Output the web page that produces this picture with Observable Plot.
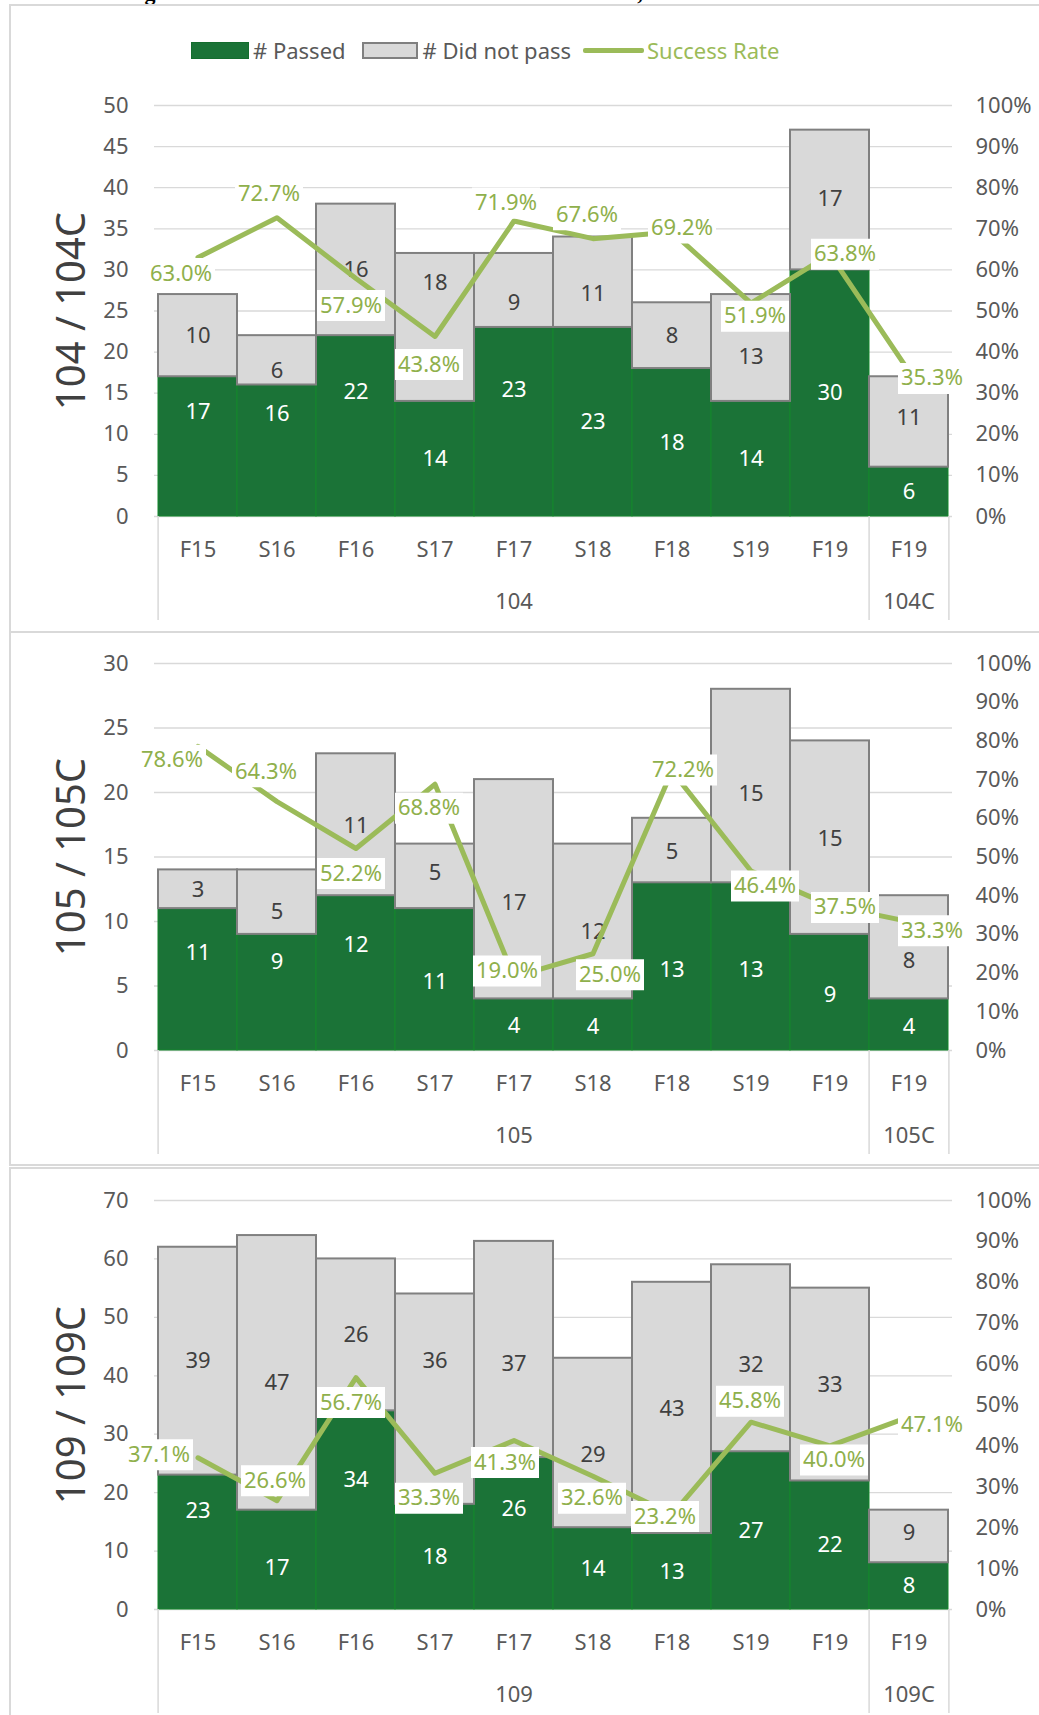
<!DOCTYPE html>
<html>
<head>
<meta charset="utf-8">
<script src="https://cdn.jsdelivr.net/npm/d3@7"></script>
<script src="https://cdn.jsdelivr.net/npm/@observablehq/plot@0.6"></script>
<style>
  html, body { margin: 0; padding: 0; background: #fff; }
  #page { position: relative; width: 1039px; height: 1715px; overflow: hidden; font-family: "Noto Sans", sans-serif; }
  .frame { position: absolute; box-sizing: border-box; border: 2px solid #d9d9d9; border-right: none; left: 9px; width: 1100px; }
  .doc-title { position: absolute; left: 12px; top: -18px; font: bold 22px/22px "Liberation Serif", serif; color: #000; white-space: nowrap; }
  .legend { position: absolute; left: 191px; top: 39px; height: 22px; display: flex; align-items: center; font-size: 22px; color: #595959; white-space: nowrap; }
  .legend .sw { display: inline-block; box-sizing: border-box; }
  .chart { position: absolute; left: 0; }
</style>
</head>
<body>
<div id="page">
  <div class="doc-title" id="docTitle"></div>
  <div class="frame" style="top:4px;height:629px"></div>
  <div class="frame" style="top:631px;height:535px"></div>
  <div class="frame" style="top:1167px;height:600px"></div>
  <div class="legend" id="legend"></div>
</div>
<script>
// ---------------- DATA ----------------
const docTitle = "Course Passing and Success Rates in Transfer-Level Math Courses, Fall 2015 – Fall 2019";
const legendLabels = ["# Passed", "# Did not pass", "Success Rate"];
const terms = ["F15", "S16", "F16", "S17", "F17", "S18", "F18", "S19", "F19", "F19"];
const pctTicks = [0, 10, 20, 30, 40, 50, 60, 70, 80, 90, 100];
const panelTitles = ["104 / 104C", "105 / 105C", "109 / 109C"];

const courses104 = ["104", "104", "104", "104", "104", "104", "104", "104", "104", "104C"];
const passed104 = [17, 16, 22, 14, 23, 23, 18, 14, 30, 6];
const notPassed104 = [10, 6, 16, 18, 9, 11, 8, 13, 17, 11];
const rate104 = [63.0, 72.7, 57.9, 43.8, 71.9, 67.6, 69.2, 51.9, 63.8, 35.3];
const countTicks104 = [0, 5, 10, 15, 20, 25, 30, 35, 40, 45, 50];

const courses105 = ["105", "105", "105", "105", "105", "105", "105", "105", "105", "105C"];
const passed105 = [11, 9, 12, 11, 4, 4, 13, 13, 9, 4];
const notPassed105 = [3, 5, 11, 5, 17, 12, 5, 15, 15, 8];
const rate105 = [78.6, 64.3, 52.2, 68.8, 19.0, 25.0, 72.2, 46.4, 37.5, 33.3];
const countTicks105 = [0, 5, 10, 15, 20, 25, 30];

const courses109 = ["109", "109", "109", "109", "109", "109", "109", "109", "109", "109C"];
const passed109 = [23, 17, 34, 18, 26, 14, 13, 27, 22, 8];
const notPassed109 = [39, 47, 26, 36, 37, 29, 43, 32, 33, 9];
const rate109 = [37.1, 26.6, 56.7, 33.3, 41.3, 32.6, 23.2, 45.8, 40.0, 47.1];
const countTicks109 = [0, 10, 20, 30, 40, 50, 60, 70];

// ---------------- STYLE / LAYOUT ----------------
const C = {
  passed: "#1b7337", passedEdge: "#14872d",
  notPassed: "#d9d9d9", notPassedEdge: "#808080",
  rate: "#9bbb59", rateText: "#8fb04c",
  grid: "#d9d9d9", tick: "#595959", title: "#404040", darkLabel: "#404040"
};
const layouts = [
  { plotTop: 105, plotBottom: 516,
    passedDy: [-35, -37, -34, 0, -32, 0, 0, 0, 0, 0],
    notDy: [0, 11, 0, -44, 13, 12, 0, 9, -1, -4],
    rateOff: [[-17, 16], [-8, -24], [-5, 27], [-6, 28], [-8, -18], [-6, -24], [10, -4], [4, 13], [15, 0], [23, 7]] },
  { plotTop: 663, plotBottom: 1050,
    passedDy: [-27, -30, -28, 2, 1, 2, 3, 3, 3, 2],
    notDy: [1, 10, 1, -3, 14, 10, 1, 8, 1, 14],
    rateOff: [[-26, 14], [-11, -30], [-5, 25], [-6, 24], [-7, -6], [17, 21], [11, -1], [14, 15], [15, 2], [23, 9]] },
  { plotTop: 1200, plotBottom: 1609,
    passedDy: [-31, 8, -30, 0, -25, 0, 0, 0, 0, 0],
    notDy: [0, 10, 0, -38, 14, 12, 1, 7, 0, -4],
    rateOff: [[-39, -3], [-2, -20], [-5, 25], [-6, 25], [-9, 22], [-1, 22], [-7, 2], [-1, -21], [4, 14], [23, 8]] }
];

const panels = [
  { title: panelTitles[0], courses: courses104, passed: passed104, notPassed: notPassed104, rate: rate104, ticks: countTicks104 },
  { title: panelTitles[1], courses: courses105, passed: passed105, notPassed: notPassed105, rate: rate105, ticks: countTicks105 },
  { title: panelTitles[2], courses: courses109, passed: passed109, notPassed: notPassed109, rate: rate109, ticks: countTicks109 }
];

const labelBox = { draw(ctx) { ctx.rect(-34, -15.5, 68, 31); } };

function drawPanel(p, L) {
  const W = 1039, mL = 154, mR = 87, mT = 30, mB = 115;
  const H = L.plotBottom - L.plotTop + mT + mB;
  const n = terms.length;
  const bw = (W - mL - mR) / n;
  const ymax = p.ticks[p.ticks.length - 1];
  const rows = terms.map((t, i) => ({
    i, term: t, course: p.courses[i], passed: p.passed[i], notPassed: p.notPassed[i],
    total: p.passed[i] + p.notPassed[i], rate: p.rate[i]
  }));
  const rateY = d => d.rate / 100 * ymax;
  const starts = rows.filter((r, k) => k === 0 || r.course !== rows[k - 1].course).map(r => r.i);
  const groupMids = [...new Set(p.courses)].map(c => {
    const idx = rows.filter(r => r.course === c).map(r => r.i);
    return idx[Math.floor((idx.length - 1) / 2)];
  });
  const sepStyle = { stroke: C.grid, strokeWidth: 1.5, y1: 0, y2: 0, insetBottom: -104 };

  const marks = [
    Plot.gridY({ ticks: p.ticks, stroke: C.grid, strokeOpacity: 1, strokeWidth: 1.3 }),
    Plot.barY(rows, { x: "i", y1: 0, y2: "passed", fill: C.passed, stroke: C.passedEdge, strokeWidth: 1 }),
    Plot.barY(rows, { x: "i", y1: "passed", y2: "total", fill: C.notPassed, stroke: C.notPassedEdge, strokeWidth: 2 }),
    Plot.ruleX(starts, { x: d => d, dx: -bw / 2, ...sepStyle }),
    Plot.ruleX([n - 1], { x: d => d, dx: bw / 2, ...sepStyle }),
    Plot.axisY({ ticks: p.ticks, anchor: "left", tickSize: 0, tickPadding: 26, fontSize: 22, label: null, fill: C.tick }),
    Plot.axisY({ ticks: pctTicks.map(v => v / 100 * ymax), anchor: "right", tickSize: 0, tickPadding: 23, fontSize: 22, label: null, fill: C.tick,
                 tickFormat: v => Math.round(v / ymax * 100) + "%" }),
    Plot.axisX({ tickSize: 0, tickPadding: 25, fontSize: 22, label: null, fill: C.tick, tickFormat: i => terms[i] }),
    Plot.axisX({ ticks: groupMids, tickSize: 0, tickPadding: 77, fontSize: 22, label: null, fill: C.tick, tickFormat: i => p.courses[i] }),
    Plot.text([p.title], { frameAnchor: "left", textAnchor: "middle", lineAnchor: "middle", text: d => d, rotate: -90, dx: -82, fontSize: 40, fill: C.title })
  ];
  rows.forEach((r, k) => {
    marks.push(Plot.text([r], { x: "i", y: d => d.passed / 2, text: d => String(d.passed), dy: L.passedDy[k], fill: "white", fontSize: 22 }));
    marks.push(Plot.text([r], { x: "i", y: d => d.passed + d.notPassed / 2, text: d => String(d.notPassed), dy: L.notDy[k], fill: C.darkLabel, fontSize: 22 }));
  });
  marks.push(Plot.line(rows, { x: "i", y: rateY, stroke: C.rate, strokeWidth: 5, strokeLinejoin: "round", strokeLinecap: "round" }));
  rows.forEach((r, k) => {
    const [dx, dy] = L.rateOff[k];
    marks.push(Plot.dot([r], { x: "i", y: rateY, symbol: labelBox, r: 10, fill: "white", stroke: null, dx, dy }));
    marks.push(Plot.text([r], { x: "i", y: rateY, text: d => d.rate.toFixed(1) + "%", fill: C.rateText, fontSize: 22, dx, dy }));
  });

  const svg = Plot.plot({
    width: W, height: H,
    marginLeft: mL, marginRight: mR, marginTop: mT, marginBottom: mB,
    style: { fontFamily: '"Noto Sans", sans-serif', fontSize: "22px", color: C.tick, background: "transparent", overflow: "visible" },
    x: { type: "band", domain: d3.range(n), padding: 0 },
    y: { domain: [0, ymax] },
    marks
  });
  const wrap = document.createElement("div");
  wrap.className = "chart";
  wrap.style.top = (L.plotTop - mT) + "px";
  wrap.appendChild(svg);
  document.getElementById("page").appendChild(wrap);
}

panels.forEach((p, k) => drawPanel(p, layouts[k]));

// ---------------- LEGEND & TITLE ----------------
document.getElementById("docTitle").textContent = docTitle;
const legend = document.getElementById("legend");
legend.innerHTML =
  `<span class="sw" style="width:58px;height:17px;background:${C.passed};border:1px solid #156d2e"></span>` +
  `<span style="margin-left:4px">${legendLabels[0]}</span>` +
  `<span class="sw" style="margin-left:16px;width:56px;height:17px;background:${C.notPassed};border:2px solid ${C.notPassedEdge}"></span>` +
  `<span style="margin-left:5px">${legendLabels[1]}</span>` +
  `<span class="sw" style="margin-left:12px;width:61px;height:5px;background:${C.rate};border-radius:2px"></span>` +
  `<span style="margin-left:3px;color:${C.rate}">${legendLabels[2]}</span>`;
</script>
</body>
</html>
